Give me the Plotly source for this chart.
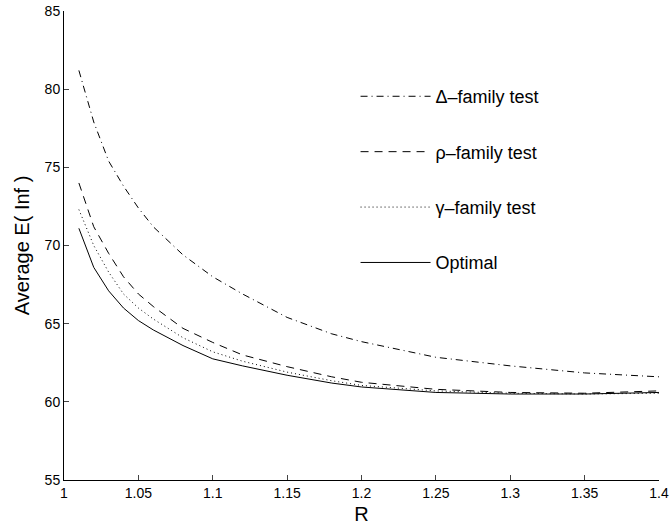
import plotly.graph_objects as go

R = [1.01, 1.02, 1.03, 1.04, 1.05, 1.06, 1.08, 1.10, 1.12, 1.15, 1.18, 1.20, 1.25, 1.30, 1.35, 1.40]
delta_family = [81.2, 77.9, 75.4, 73.8, 72.4, 71.2, 69.4, 68.0, 66.9, 65.4, 64.35, 63.85, 62.85, 62.3, 61.85, 61.6]
rho_family = [74.0, 71.2, 69.5, 68.0, 66.9, 66.1, 64.7, 63.8, 63.0, 62.25, 61.6, 61.25, 60.8, 60.6, 60.55, 60.7]
gamma_family = [72.3, 70.0, 68.3, 66.9, 66.0, 65.3, 64.1, 63.2, 62.6, 61.9, 61.35, 61.05, 60.7, 60.55, 60.5, 60.55]
optimal = [71.1, 68.6, 67.1, 66.0, 65.2, 64.6, 63.6, 62.75, 62.3, 61.7, 61.2, 60.95, 60.6, 60.5, 60.5, 60.6]

names = ["\u0394\u2013family test", "\u03c1\u2013family test", "\u03b3\u2013family test", "Optimal"]
x_ticks = [1, 1.05, 1.1, 1.15, 1.2, 1.25, 1.3, 1.35, 1.4]
y_ticks = [55, 60, 65, 70, 75, 80, 85]

series = [delta_family, rho_family, gamma_family, optimal]
dashes = ["7px,4px,1px,4px", "8px,6px", "1px,3px", "solid"]

fig = go.Figure()
for i, (nm, ys, d) in enumerate(zip(names, series, dashes)):
    fig.add_trace(go.Scatter(x=R, y=ys, mode="lines", name=nm, legendgroup=str(i),
                             line=dict(color="black", width=1, dash=d)))

fig.update_layout(
    width=670, height=531,
    margin=dict(l=64, r=11, t=11, b=51),
    paper_bgcolor="white", plot_bgcolor="white",
    font=dict(family="Liberation Sans, Arial, sans-serif", color="black"),
    showlegend=True,
    legend=dict(x=0.49, y=0.857, xanchor="left", yanchor="top",
                font=dict(size=18, color="black"), tracegroupgap=29,
                bgcolor="rgba(0,0,0,0)", itemwidth=70),
    xaxis=dict(range=[1, 1.4], tickvals=x_ticks, ticks="inside", ticklen=5,
               showline=True, linecolor="black", linewidth=1, showgrid=False,
               zeroline=False, tickfont=dict(size=14, color="black"),
               automargin=False,
               title=dict(text="R", font=dict(size=20), standoff=7)),
    yaxis=dict(range=[55, 85], tickvals=y_ticks, ticks="inside", ticklen=5,
               showline=True, linecolor="black", linewidth=1, showgrid=False,
               zeroline=False, tickfont=dict(size=14, color="black"),
               automargin=False,
               title=dict(text="Average E( Inf )", font=dict(size=20), standoff=9)),
)

fig.write_html("out.html", config={"displayModeBar": False},
               post_script="document.body.style.margin='0';")
